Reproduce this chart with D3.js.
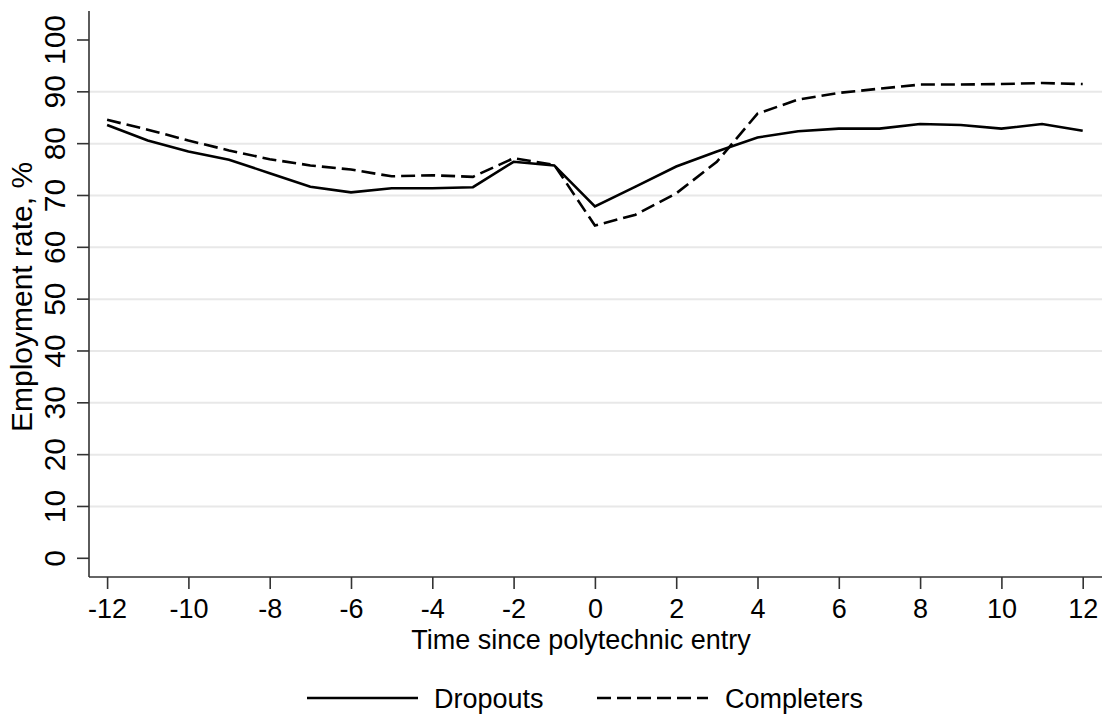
<!DOCTYPE html>
<html>
<head>
<meta charset="utf-8">
<script src="https://cdnjs.cloudflare.com/ajax/libs/d3/7.8.5/d3.min.js"></script>
<style>
    body { margin: 0; background: #fff; }
    text { font-family: "Liberation Sans", Arial, Helvetica, sans-serif; fill: #000; }
</style>
</head>
<body>
<script>
const WIDTH = 1106;
const HEIGHT = 719;
const FONT = "27px";       // horizontal text
const FONT_ROT = "30px";   // rotated text on the y side

// years relative to entry
const years = [-12, -11, -10, -9, -8, -7, -6, -5, -4, -3, -2, -1, 0, 1, 2, 3, 4, 5, 6, 7, 8, 9, 10, 11, 12];

const dropouts = [83.6, 80.6, 78.5, 76.9, 74.3, 71.7, 70.6, 71.4, 71.4, 71.6, 76.5, 75.8, 67.9,
    71.7, 75.6, 78.5, 81.2, 82.4, 82.9, 82.9, 83.8, 83.6, 82.9, 83.8, 82.5];
const completers = [84.6, 82.7, 80.6, 78.7, 77.0, 75.8, 75.0, 73.7, 73.9, 73.6, 77.2, 75.9, 64.2,
    66.3, 70.4, 76.5, 85.8, 88.5, 89.8, 90.6, 91.4, 91.4, 91.5, 91.7, 91.5];

const xTicks = [-12, -10, -8, -6, -4, -2, 0, 2, 4, 6, 8, 10, 12];
const yTicks = [0, 10, 20, 30, 40, 50, 60, 70, 80, 90, 100];
const gridValues = [10, 20, 30, 40, 50, 60, 70, 80, 90];

const seriesNames = ["Dropouts", "Completers"];
const dashes = [null, "14 6"];

const plotLeft = 89;
const plotRight = 1102;
const plotTop = 11;
const plotBottom = 577;

const x = d3.scaleLinear().domain([-12, 12]).range([107.1, 1082.7]);
const y = d3.scaleLinear().domain([0, 100]).range([558.3, 40]);

const svg = d3.select("body").append("svg")
    .attr("width", WIDTH)
    .attr("height", HEIGHT);

svg.append("rect")
    .attr("width", WIDTH)
    .attr("height", HEIGHT)
    .attr("fill", "#fff");

// grid
svg.selectAll(".grid")
    .data(gridValues).enter()
    .append("line")
    .attr("x1", plotLeft)
    .attr("x2", plotRight)
    .attr("y1", d => y(d))
    .attr("y2", d => y(d))
    .attr("stroke", "#e8e8e8")
    .attr("stroke-width", 2);

// y axis
const yAxis = svg.append("g")
    .attr("transform", `translate(${plotLeft},0)`)
    .call(d3.axisLeft(y).tickValues(yTicks).tickSize(12).tickFormat(d3.format("d")));
yAxis.select(".domain").remove();
yAxis.selectAll("line").attr("stroke", "#333").attr("stroke-width", 1.6);
yAxis.selectAll(".tick").attr("transform", null);
yAxis.selectAll(".tick line")
    .attr("y1", d => y(d))
    .attr("y2", d => y(d));
yAxis.selectAll("text")
    .attr("x", null).attr("dy", null)
    .attr("text-anchor", "middle")
    .attr("transform", d => `translate(${65 - plotLeft},${y(d)}) rotate(-90)`)
    .attr("y", 0)
    .style("font-size", FONT_ROT)
    .attr("fill", "#000");

// x axis
const xAxis = svg.append("g")
    .attr("transform", `translate(0,${plotBottom})`)
    .call(d3.axisBottom(x).tickValues(xTicks).tickSize(12).tickFormat(d3.format("d")));
xAxis.select(".domain").remove();
xAxis.selectAll("line").attr("stroke", "#333").attr("stroke-width", 1.6);
xAxis.selectAll("text")
    .attr("y", 41).attr("dy", null)
    .style("font-size", FONT)
    .attr("fill", "#000")
    .text(d => d < 0 ? "-" + Math.abs(d) : d);

svg.append("line")
    .attr("x1", plotLeft).attr("x2", plotLeft)
    .attr("y1", plotTop).attr("y2", plotBottom)
    .attr("stroke", "#333").attr("stroke-width", 1.6);
svg.append("line")
    .attr("x1", plotLeft).attr("x2", plotRight)
    .attr("y1", plotBottom).attr("y2", plotBottom)
    .attr("stroke", "#333").attr("stroke-width", 1.6);

// lines
const line = d3.line()
    .x((d, i) => x(years[i]))
    .y(d => y(d));

[dropouts, completers].forEach(function(series, i) {
    svg.append("path")
        .datum(series)
        .attr("d", line)
        .attr("fill", "none")
        .attr("stroke", "#000")
        .attr("stroke-width", 2.6)
        .attr("stroke-linejoin", "miter")
        .attr("stroke-dasharray", dashes[i]);
});

// titles
svg.append("text")
    .attr("x", 581)
    .attr("y", 649)
    .attr("text-anchor", "middle")
    .style("font-size", FONT)
    .text("Time since polytechnic entry");

svg.append("text")
    .attr("transform", "translate(32,297) rotate(-90)")
    .attr("text-anchor", "middle")
    .style("font-size", FONT_ROT)
    .text("Employment rate, %");

// legend
const legendItems = [
    { lx: 307, tx: 434 },
    { lx: 597, tx: 725 }
];
legendItems.forEach(function(item, i) {
    svg.append("line")
        .attr("x1", item.lx).attr("x2", item.lx + 111)
        .attr("y1", 698).attr("y2", 698)
        .attr("stroke", "#000")
        .attr("stroke-width", 2.6)
        .attr("stroke-dasharray", dashes[i]);
    svg.append("text")
        .attr("x", item.tx)
        .attr("y", 708)
        .style("font-size", FONT)
        .text(seriesNames[i]);
});
</script>
</body>
</html>
